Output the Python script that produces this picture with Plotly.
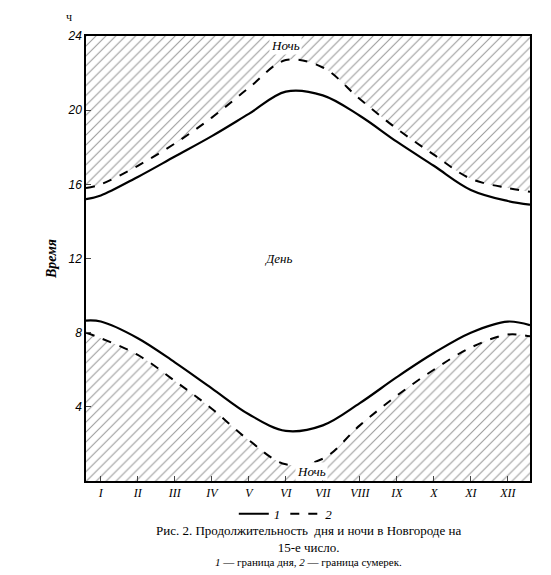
import plotly.graph_objects as go

# month positions (15th of month), with plot edges
months = [0.6, 1, 2, 3, 4, 5, 6, 7, 8, 9, 10, 11, 12, 12.6]
month_labels = ["I", "II", "III", "IV", "V", "VI", "VII", "VIII", "IX", "X", "XI", "XII"]

sunset = [15.2, 15.4, 16.4, 17.5, 18.6, 19.8, 21.0, 20.8, 19.7, 18.3, 17.0, 15.7, 15.1, 14.9]
dusk = [15.8, 16.0, 17.0, 18.2, 19.6, 21.2, 22.7, 22.3, 20.6, 19.0, 17.6, 16.3, 15.8, 15.6]
sunrise = [8.65, 8.6, 7.7, 6.4, 5.0, 3.6, 2.7, 3.0, 4.2, 5.6, 6.9, 8.0, 8.6, 8.4]
dawn = [8.0, 7.7, 6.8, 5.4, 3.9, 2.2, 0.9, 1.2, 3.0, 4.6, 6.0, 7.2, 7.9, 7.8]

top = [24] * len(months)
bottom = [0] * len(months)

hatch = dict(shape="/", fgcolor="#333", bgcolor="white", size=7, solidity=0.15)

fig = go.Figure()
# lower night area
fig.add_trace(go.Scatter(x=months, y=bottom, mode="lines", line=dict(width=0), showlegend=False, hoverinfo="skip"))
fig.add_trace(go.Scatter(x=months, y=dawn, mode="lines", line=dict(width=0, shape="spline"), fill="tonexty",
                         fillpattern=hatch, fillcolor="white", showlegend=False, hoverinfo="skip"))
# upper night area
fig.add_trace(go.Scatter(x=months, y=dusk, mode="lines", line=dict(width=0, shape="spline"), showlegend=False, hoverinfo="skip"))
fig.add_trace(go.Scatter(x=months, y=top, mode="lines", line=dict(width=0), fill="tonexty",
                         fillpattern=hatch, fillcolor="white", showlegend=False, hoverinfo="skip"))

line1 = dict(color="black", width=2.2, shape="spline")
line2 = dict(color="black", width=2, dash="dash", shape="spline")
fig.add_trace(go.Scatter(x=months, y=sunset, mode="lines", line=line1, name="1", legendrank=1))
fig.add_trace(go.Scatter(x=months, y=dusk, mode="lines", line=line2, name="2", legendrank=2))
fig.add_trace(go.Scatter(x=months, y=sunrise, mode="lines", line=line1, showlegend=False))
fig.add_trace(go.Scatter(x=months, y=dawn, mode="lines", line=line2, showlegend=False))

it = dict(family="Liberation Serif", size=13, color="black")
fig.update_layout(
    width=551, height=575,
    margin=dict(l=78, r=29, t=28, b=102),
    plot_bgcolor="white", paper_bgcolor="white",
    font=it,
    legend=dict(orientation="h", x=0.45, y=-0.04, xanchor="center", yanchor="top", traceorder="normal",
                font=dict(family="Liberation Serif", size=13, style="italic"), bgcolor="rgba(0,0,0,0)"),
    xaxis=dict(range=[0.6, 12.6], tickvals=list(range(1, 13)), ticktext=month_labels,
               showgrid=False, zeroline=False, showline=True, linecolor="black", mirror=True, linewidth=1.5,
               ticks="inside", ticklen=5, tickfont=dict(family="Liberation Serif", size=12, style="italic")),
    yaxis=dict(range=[0, 24], tickvals=[4, 8, 12, 16, 20, 24],
               showgrid=False, zeroline=False, showline=True, linecolor="black", mirror=True, linewidth=1.5,
               ticks="inside", ticklen=5, tickfont=dict(family="Liberation Sans", size=12, style="italic"),
               title=dict(text="<b><i>Время</i></b>", font=dict(size=14), standoff=8)),
    annotations=[
        dict(x=0, y=1.0, xref="paper", yref="paper", text="ч", showarrow=False, xanchor="right", yanchor="bottom",
             xshift=-12, yshift=10, font=dict(family="Liberation Serif", size=12)),
        dict(x=6, y=23.5, text="<i>Ночь</i>", showarrow=False, bgcolor="white", font=it),
        dict(x=6.7, y=0.5, text="<i>Ночь</i>", showarrow=False, bgcolor="white", font=it),
        dict(x=5.8, y=12, text="<i>День</i>", showarrow=False, font=it),
        dict(x=0.5, y=-0.09, xref="paper", yref="paper", showarrow=False, yanchor="top",
             text="Рис. 2. Продолжительность  дня и ночи в Новгороде на<br>15-е число.",
             font=dict(family="Liberation Serif", size=13)),
        dict(x=0.5, y=-0.165, xref="paper", yref="paper", showarrow=False, yanchor="top",
             text="<i>1</i> — граница дня, <i>2</i> — граница сумерек.",
             font=dict(family="Liberation Serif", size=11)),
    ],
)

fig.write_html("out.html")
